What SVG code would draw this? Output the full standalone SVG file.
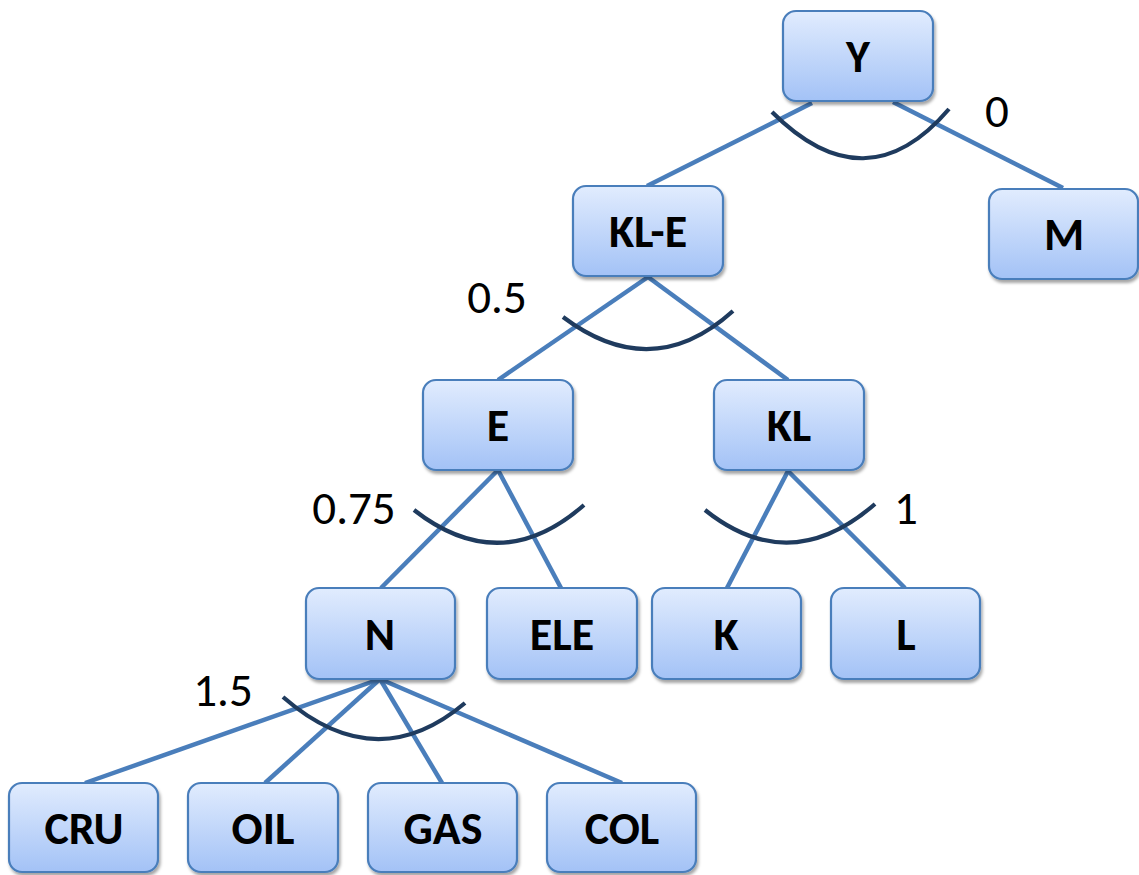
<svg xmlns="http://www.w3.org/2000/svg" width="1139" height="875" viewBox="0 0 1139 875">
<defs>
<linearGradient id="g" x1="0" y1="0" x2="0" y2="1">
<stop offset="0" stop-color="#e1ecfe"/>
<stop offset="1" stop-color="#a3c2f6"/>
</linearGradient>
<filter id="sh" x="-10%" y="-10%" width="125%" height="130%">
<feDropShadow dx="1.5" dy="3" stdDeviation="1.5" flood-color="#000" flood-opacity="0.35"/>
</filter>
</defs>
<style>
.box{fill:url(#g);stroke:#4a7ebb;stroke-width:2.2;filter:url(#sh)}
.lbl{font-family:Carlito,Lato,"Liberation Sans",sans-serif;font-weight:900;font-size:46px;fill:#000;text-anchor:middle}
.num{font-family:Carlito,Lato,"Liberation Sans",sans-serif;font-size:47px;fill:#000;text-anchor:middle}
.edge{stroke:#4a7ebb;stroke-width:4.5;fill:none}
.arc{stroke:#1f3b5e;stroke-width:4.2;fill:none}
</style>
<rect width="1139" height="875" fill="#fff"/>
<g id="connectors">
<line class="edge" x1="812" y1="103" x2="647" y2="186"/>
<line class="edge" x1="893" y1="102" x2="1063" y2="188"/>
<line class="edge" x1="648" y1="277" x2="498" y2="380"/>
<line class="edge" x1="648" y1="277" x2="788" y2="380"/>
<line class="edge" x1="498" y1="470" x2="381" y2="588"/>
<line class="edge" x1="498" y1="470" x2="561" y2="588"/>
<line class="edge" x1="788" y1="471" x2="727" y2="588"/>
<line class="edge" x1="788" y1="471" x2="905" y2="588"/>
<line class="edge" x1="380" y1="679" x2="85" y2="783"/>
<line class="edge" x1="380" y1="679" x2="265" y2="783"/>
<line class="edge" x1="380" y1="679" x2="442" y2="783"/>
<line class="edge" x1="380" y1="679" x2="622" y2="783"/>
<path class="arc" d="M772,112 Q866,206 949,109"/>
<path class="arc" d="M563,317 Q652,384 733,311"/>
<path class="arc" d="M414,510 Q501,578 584,505"/>
<path class="arc" d="M705,510 Q790,578 875,504"/>
<path class="arc" d="M283,697 Q376,778 465,703"/>
</g>
<g id="weights">
<text class="num" x="997" y="127">0</text>
<text class="num" x="497" y="313">0.5</text>
<text class="num" x="354" y="524">0.75</text>
<text class="num" x="906" y="524">1</text>
<text class="num" x="223" y="706">1.5</text>
</g>
<g id="node-Y"><rect class="box" x="783" y="11" width="150" height="90" rx="13"/><text class="lbl" x="858" y="72">Y</text></g>
<g id="node-KL-E"><rect class="box" x="573" y="186" width="150" height="90" rx="13"/><text class="lbl" x="648" y="247">KL-E</text></g>
<g id="node-M"><rect class="box" x="989" y="189" width="149" height="90" rx="13"/><text class="lbl" x="1064" y="250">M</text></g>
<g id="node-E"><rect class="box" x="423" y="380" width="150" height="90" rx="13"/><text class="lbl" x="498" y="441">E</text></g>
<g id="node-KL"><rect class="box" x="714" y="380" width="150" height="90" rx="13"/><text class="lbl" x="789" y="441">KL</text></g>
<g id="node-N"><rect class="box" x="306" y="588" width="149" height="91" rx="13"/><text class="lbl" x="380" y="650">N</text></g>
<g id="node-ELE"><rect class="box" x="487" y="588" width="150" height="91" rx="13"/><text class="lbl" x="562" y="650">ELE</text></g>
<g id="node-K"><rect class="box" x="652" y="588" width="149" height="91" rx="13"/><text class="lbl" x="726" y="650">K</text></g>
<g id="node-L"><rect class="box" x="831" y="588" width="149" height="91" rx="13"/><text class="lbl" x="906" y="650">L</text></g>
<g id="node-CRU"><rect class="box" x="9" y="783" width="149" height="89" rx="13"/><text class="lbl" x="84" y="844">CRU</text></g>
<g id="node-OIL"><rect class="box" x="188" y="783" width="150" height="89" rx="13"/><text class="lbl" x="263" y="844">OIL</text></g>
<g id="node-GAS"><rect class="box" x="368" y="783" width="149" height="89" rx="13"/><text class="lbl" x="443" y="844">GAS</text></g>
<g id="node-COL"><rect class="box" x="547" y="783" width="149" height="89" rx="13"/><text class="lbl" x="622" y="844">COL</text></g>
</svg>
